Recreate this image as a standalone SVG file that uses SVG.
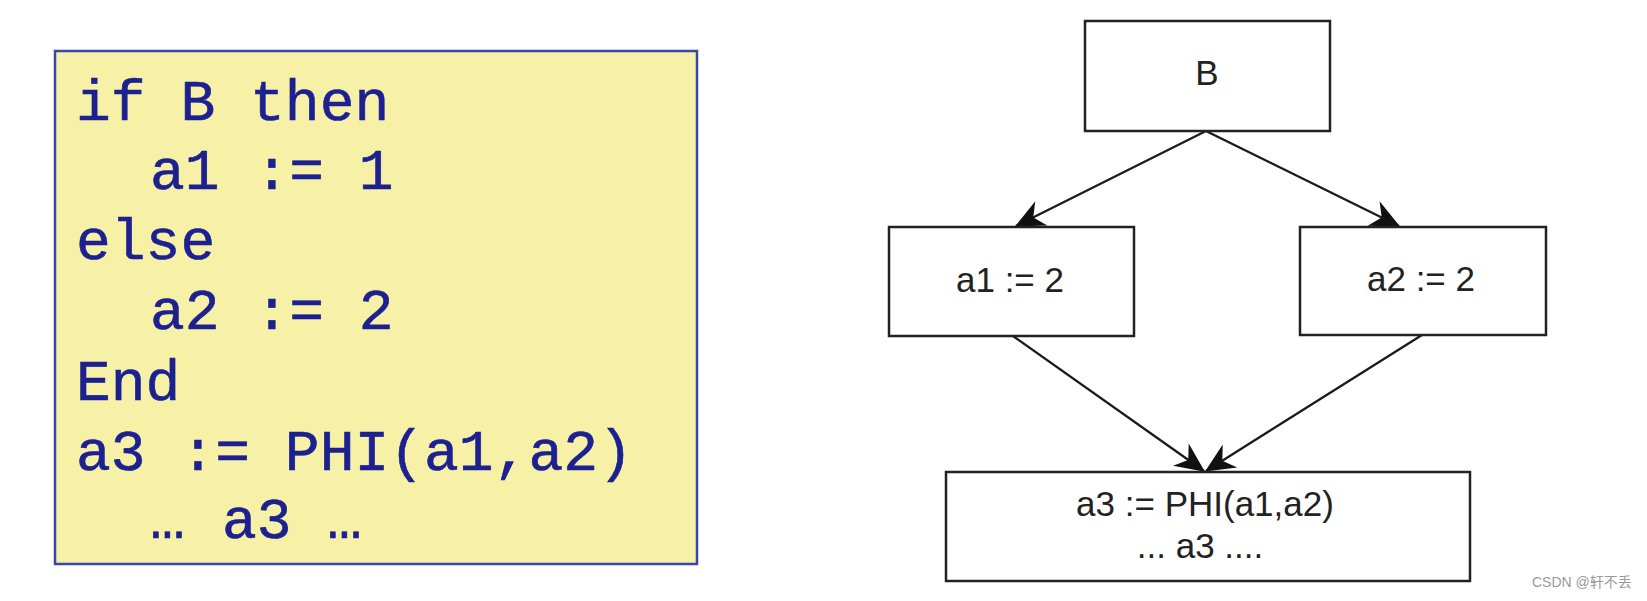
<svg xmlns="http://www.w3.org/2000/svg" width="1647" height="601" viewBox="0 0 1647 601">
<style>
.code{font-family:"Liberation Mono","Courier New",monospace;font-size:58px;fill:#1c2090;stroke:#1c2090;stroke-width:0.6}
.box{fill:#ffffff;stroke:#222222;stroke-width:2.5}
.lbl{font-family:"Liberation Sans",Arial,sans-serif;font-size:35px;fill:#222222;text-anchor:middle}
.edge{stroke:#1a1a1a;stroke-width:2.3;fill:none;marker-end:url(#arr)}
</style>
<defs>
<marker id="arr" markerUnits="userSpaceOnUse" markerWidth="34" markerHeight="34" viewBox="-28 -14 30 28" refX="0" refY="0" orient="auto">
<path d="M1,0 L-25,-12 L-17,0 L-25,12 Z" fill="#111111"/>
</marker>
</defs>
<rect width="1647" height="601" fill="#ffffff"/>
<g id="code">
<rect x="55" y="51" width="642" height="513" fill="#f6f1a7" stroke="#3a46a8" stroke-width="2.5"/>
<text class="code" x="76" y="120">if B then</text>
<text class="code" x="150" y="189">a1 := 1</text>
<text class="code" x="76" y="259">else</text>
<text class="code" x="150" y="329">a2 := 2</text>
<text class="code" x="76" y="400">End</text>
<text class="code" x="76" y="470">a3 := PHI(a1,a2)</text>
<text class="code" x="150" y="538">…<tspan x="222">a3</tspan><tspan x="327">…</tspan></text>
</g>
<g id="edges">
<line class="edge" x1="1206" y1="131" x2="1016" y2="226"/>
<line class="edge" x1="1206" y1="131" x2="1399" y2="226"/>
<line class="edge" x1="1013" y1="336" x2="1204" y2="471"/>
<line class="edge" x1="1422" y1="335" x2="1206" y2="471"/>
</g>
<g id="nodeB">
<rect class="box" x="1085" y="21" width="245" height="110"/>
<text class="lbl" x="1207" y="85">B</text>
</g>
<g id="nodeA1">
<rect class="box" x="889" y="227" width="245" height="109"/>
<text class="lbl" x="1010" y="292">a1 := 2</text>
</g>
<g id="nodeA2">
<rect class="box" x="1300" y="227" width="246" height="108"/>
<text class="lbl" x="1421" y="291">a2 := 2</text>
</g>
<g id="nodeA3">
<rect class="box" x="946" y="472" width="524" height="109"/>
<text class="lbl" x="1205" y="516">a3 := PHI(a1,a2)</text>
<text class="lbl" x="1200" y="558">... a3 ....</text>
</g>
<text x="1532" y="587" font-family="'Liberation Sans','Noto Sans CJK SC',sans-serif" font-size="14" fill="#9a9a9a">CSDN @轩不丢</text>
</svg>
